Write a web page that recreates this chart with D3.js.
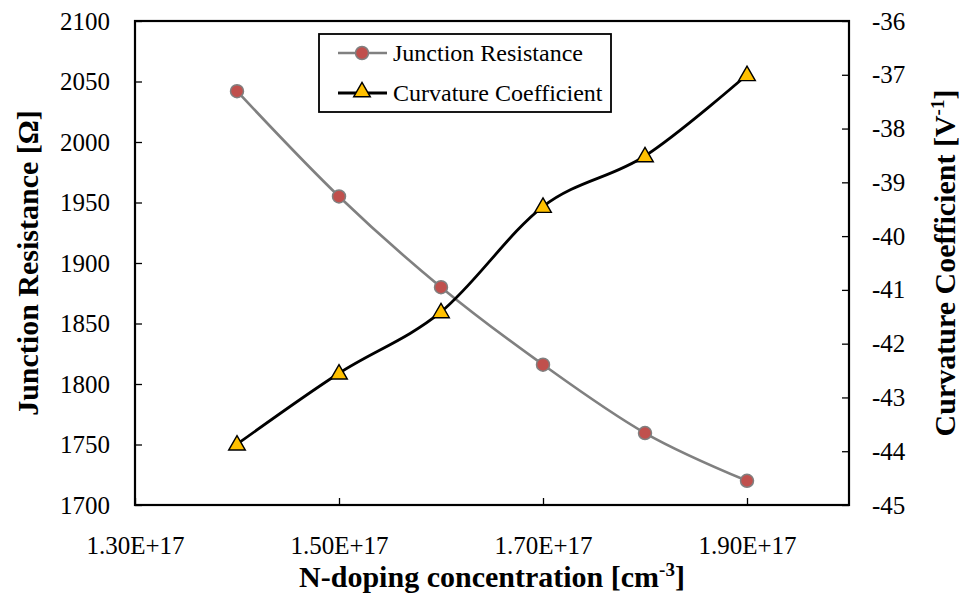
<!DOCTYPE html>
<html>
<head>
<meta charset="utf-8">
<script src="https://cdn.jsdelivr.net/npm/d3@7/dist/d3.min.js"></script>
<style>
  html, body { margin: 0; padding: 0; background: #fff; }
  svg text { font-family: 'Liberation Serif', 'Times New Roman', serif; }
</style>
</head>
<body>
<svg id="chart" width="963" height="595"></svg>
<script>
// N-doping concentration (cm^-3)
const doping = [1.4e17, 1.5e17, 1.6e17, 1.7e17, 1.8e17, 1.9e17];
// Junction resistance (Ohm), left axis
const resistance = [2042, 1955, 1880, 1816, 1759.5, 1720];
// Curvature coefficient (1/V), right axis
const curvature = [-43.87, -42.55, -41.41, -39.45, -38.51, -37.0];

const xTicks = [1.3e17, 1.5e17, 1.7e17, 1.9e17];
const leftTicks = [1700, 1750, 1800, 1850, 1900, 1950, 2000, 2050, 2100];
const rightTicks = [-45, -44, -43, -42, -41, -40, -39, -38, -37, -36];

const FONT = "'Liberation Serif', 'Times New Roman', serif";
const TICK_SIZE = 25;

const svg = d3.select("#chart");
const L = 135, R = 849, T = 21, B = 505;

const x = d3.scaleLinear().domain([1.3e17, 2.0e17]).range([L, R]);
const yL = d3.scaleLinear().domain([1700, 2100]).range([B, T]);
const yR = d3.scaleLinear().domain([-45, -36]).range([B, T]);

const fmtX = d => (d / 1e17).toFixed(2) + "E+17";

// axes with inward ticks
const axisStyle = g => {
  g.attr("font-family", FONT).attr("font-size", TICK_SIZE);
  g.selectAll(".domain").remove();
  g.selectAll(".tick line").attr("stroke", "#000").attr("stroke-width", 1.3);
  g.selectAll(".tick text").attr("fill", "#000")
    .attr("font-family", FONT).style("font-family", FONT).style("font-size", TICK_SIZE + "px");
};

svg.append("g").attr("transform", `translate(0,${B})`)
  .call(d3.axisBottom(x).tickValues(xTicks).tickFormat(fmtX).tickSizeInner(-7).tickSizeOuter(0).tickPadding(31))
  .call(axisStyle);

svg.append("g").attr("transform", `translate(${L},0)`)
  .call(d3.axisLeft(yL).tickValues(leftTicks).tickFormat(d3.format("d")).tickSizeInner(-7).tickSizeOuter(0).tickPadding(25))
  .call(axisStyle);

svg.append("g").attr("transform", `translate(${R},0)`)
  .call(d3.axisRight(yR).tickValues(rightTicks).tickFormat(d => String(d)).tickSizeInner(-7).tickSizeOuter(0).tickPadding(23))
  .call(axisStyle);

// plot frame
svg.append("rect").attr("x", L).attr("y", T).attr("width", R - L).attr("height", B - T)
  .attr("fill", "none").attr("stroke", "#000").attr("stroke-width", 2.2);

// series
const smooth = d3.curveCatmullRom.alpha(0);
const jr = doping.map((d, i) => [x(d), yL(resistance[i])]);
const cc = doping.map((d, i) => [x(d), yR(curvature[i])]);

svg.append("path").attr("d", d3.line().curve(smooth)(jr))
  .attr("fill", "none").attr("stroke", "#808080").attr("stroke-width", 2.6);
svg.append("path").attr("d", d3.line().curve(smooth)(cc))
  .attr("fill", "none").attr("stroke", "#000").attr("stroke-width", 2.8);

const tri = d3.symbol().type(d3.symbolTriangle).size(120);

svg.selectAll("circle.jr").data(jr).join("circle")
  .attr("class", "jr").attr("cx", d => d[0]).attr("cy", d => d[1]).attr("r", 6.5)
  .attr("fill", "#C0504D").attr("stroke", "#808080").attr("stroke-width", 1.5);

svg.selectAll("path.cc").data(cc).join("path")
  .attr("class", "cc").attr("d", tri)
  .attr("transform", d => `translate(${d[0]},${d[1] + 1})`)
  .attr("fill", "#FFC000").attr("stroke", "#000").attr("stroke-width", 1.4);

// legend
const lg = svg.append("g").style("font-family", FONT);
lg.append("rect").attr("x", 319).attr("y", 34).attr("width", 292).attr("height", 78)
  .attr("fill", "#fff").attr("stroke", "#000").attr("stroke-width", 1.8);
const ly1 = 53, ly2 = 93;
lg.append("line").attr("x1", 338).attr("x2", 387).attr("y1", ly1).attr("y2", ly1)
  .attr("stroke", "#808080").attr("stroke-width", 2.6);
lg.append("circle").attr("cx", 362).attr("cy", ly1).attr("r", 6.5)
  .attr("fill", "#C0504D").attr("stroke", "#808080").attr("stroke-width", 1.5);
lg.append("text").attr("x", 393).attr("y", ly1 + 8).style("font-size", "24px").text("Junction Resistance");
lg.append("line").attr("x1", 338).attr("x2", 387).attr("y1", ly2).attr("y2", ly2)
  .attr("stroke", "#000").attr("stroke-width", 2.8);
lg.append("path").attr("d", tri).attr("transform", `translate(362,${ly2 - 1})`)
  .attr("fill", "#FFC000").attr("stroke", "#000").attr("stroke-width", 1.4);
lg.append("text").attr("x", 393).attr("y", ly2 + 8).style("font-size", "24px").text("Curvature Coefficient");

// axis titles
const title = sel => sel.style("font-family", FONT).style("font-size", "30px").style("font-weight", "bold")
  .attr("text-anchor", "middle").attr("fill", "#000");

const xt = svg.append("text").attr("x", 492).attr("y", 587).call(title);
xt.append("tspan").text("N-doping concentration [cm");
xt.append("tspan").attr("dy", -11).style("font-size", "19px").text("-3");
xt.append("tspan").attr("dy", 11).text("]");

svg.append("text").attr("transform", "translate(38,263) rotate(-90)").call(title)
  .text("Junction Resistance [Ω]");

const rt = svg.append("text").attr("transform", "translate(955,263) rotate(-90)").call(title);
rt.append("tspan").text("Curvature Coefficient [V");
rt.append("tspan").attr("dy", -11).style("font-size", "19px").text("-1");
rt.append("tspan").attr("dy", 11).text("]");
</script>
</body>
</html>
